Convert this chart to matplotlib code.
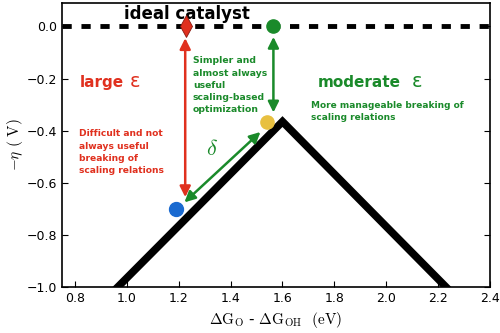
import numpy as np
import matplotlib
matplotlib.use("Agg")
import matplotlib.pyplot as plt

plt.rcParams["mathtext.fontset"] = "cm"
plt.rcParams["font.family"] = "DejaVu Sans"

# volcano limiting lines (extended below the axis, clipped by the axes)
volcano_x = [0.90, 1.60, 2.295]
volcano_y = [-1.065, -0.365, -1.065]

# catalyst points
ideal_x, ideal_y = 1.228, 0.0
green_x, green_y = 1.562, 0.0
yellow_x, yellow_y = 1.54, -0.365
blue_x, blue_y = 1.19, -0.70

xticks = [0.8, 1.0, 1.2, 1.4, 1.6, 1.8, 2.0, 2.2, 2.4]
yticks = [0.0, -0.2, -0.4, -0.6, -0.8, -1.0]

red = "#e0301e"
green = "#1a8a2a"

fig = plt.figure(figsize=(5, 3.33), dpi=100)
ax = fig.add_axes([0.124, 0.138, 0.856, 0.853])

ax.plot(volcano_x, volcano_y, color="black", lw=5.5, solid_capstyle="butt",
        solid_joinstyle="miter", zorder=2)
ax.axhline(0.0, color="black", lw=3.5, ls=(0, (1.9, 2.0)), zorder=2)

# arrows
arr = dict(arrowstyle="<|-|>", lw=1.8, mutation_scale=16, shrinkA=0, shrinkB=0)
ax.annotate("", xy=(1.225, -0.655), xytext=(1.225, -0.045),
            arrowprops=dict(arr, color=red))
ax.annotate("", xy=(1.565, -0.33), xytext=(1.565, -0.04),
            arrowprops=dict(arr, color=green))
ax.annotate("", xy=(1.222, -0.675), xytext=(1.515, -0.405),
            arrowprops=dict(arr, color=green))

ax.plot(ideal_x, ideal_y, marker="d", ms=11, color=red, mec="#8a1a10", mew=0.6, zorder=5)
ax.plot(green_x, green_y, marker="o", ms=9.5, color=green, zorder=5)
ax.plot(yellow_x, yellow_y, marker="o", ms=9.5, color="#e8c040", zorder=5)
ax.plot(blue_x, blue_y, marker="o", ms=10, color="#1a6ad0", zorder=5)

ax.text(1.23, 0.048, "ideal catalyst", ha="center", va="center",
        fontsize=12, fontweight="bold", color="black")
ax.text(0.82, -0.215, "large", color=red, fontsize=11, fontweight="bold",
        va="center", ha="left")
ax.text(1.01, -0.21, "ε", color=red, fontsize=14, va="center", ha="left")
ax.text(0.815, -0.395, "Difficult and not\nalways useful\nbreaking of\nscaling relations",
        color=red, fontsize=6.6, fontweight="bold", va="top", ha="left", linespacing=1.45)
ax.text(1.255, -0.115, "Simpler and\nalmost always\nuseful\nscaling-based\noptimization",
        color=green, fontsize=6.7, fontweight="bold", va="top", ha="left", linespacing=1.45)
ax.text(1.735, -0.215, "moderate", color=green, fontsize=11, fontweight="bold",
        va="center", ha="left")
ax.text(2.1, -0.21, "ε", color=green, fontsize=14, va="center", ha="left")
ax.text(1.71, -0.285, "More manageable breaking of\nscaling relations",
        color=green, fontsize=6.5, fontweight="bold", va="top", ha="left", linespacing=1.45)
ax.text(1.33, -0.47, r"$\delta$", color=green, fontsize=16, ha="center", va="center")

ax.set_xlim(0.75, 2.4)
ax.set_ylim(-1.0, 0.09)
ax.set_xticks(xticks)
ax.set_yticks(yticks)
ax.tick_params(labelsize=9, direction="in", length=4)
ax.tick_params(axis="y", left=True, right=True, labelleft=True, labelright=False)
ax.tick_params(axis="x", top=False, bottom=True)
ax.set_yticklabels(["0.0", "\u22120.2", "\u22120.4", "\u22120.6", "\u22120.8", "\u22121.0"])
ax.set_xlabel(r"$\Delta\mathrm{G_O}$ - $\Delta\mathrm{G_{OH}}$  $\mathrm{(eV)}$", fontsize=11, labelpad=4)
ax.set_ylabel(r"$-\eta$ $\mathrm{(\ V)}$", fontsize=11, labelpad=1)
for s in ax.spines.values():
    s.set_linewidth(1.2)

fig.savefig("out.png", dpi=100)
